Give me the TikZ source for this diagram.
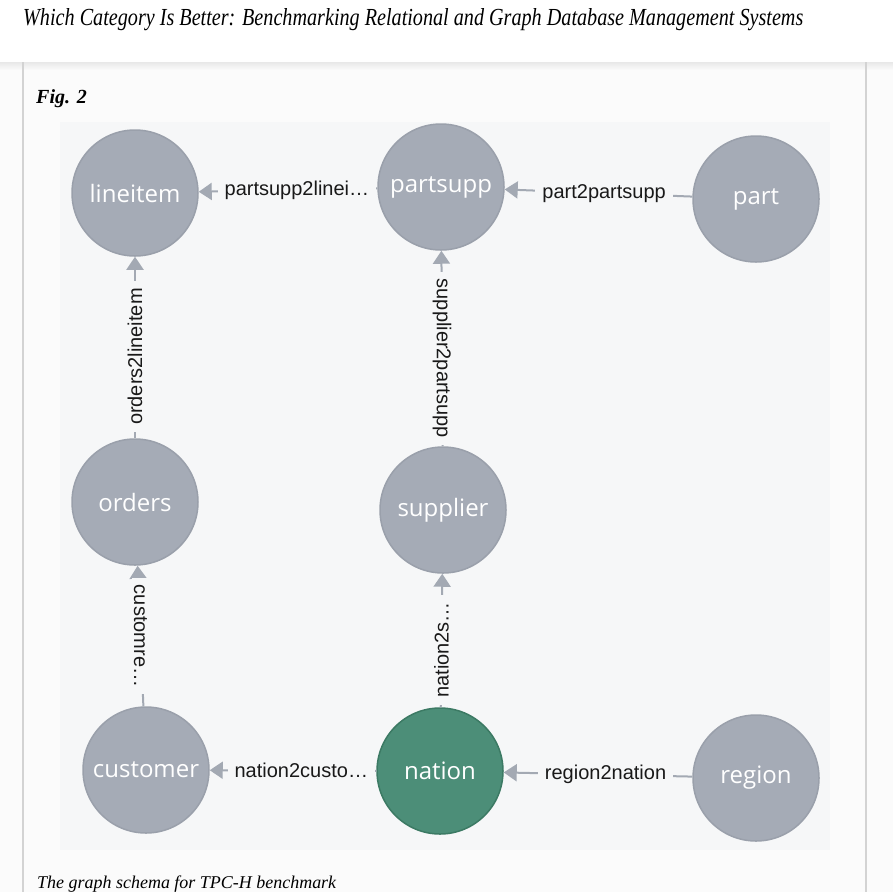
\documentclass[tikz,border=0pt]{standalone}
\usepackage{fontspec}
\setmainfont{Liberation Serif}
\newfontfamily\nodefont{Open Sans}
\newfontfamily\edgefont{Liberation Sans}
\usetikzlibrary{arrows.meta}

\definecolor{nodegray}{HTML}{A5ABB6}
\definecolor{nodeedge}{HTML}{9AA0AB}
\definecolor{nationgreen}{HTML}{4C8E78}
\definecolor{nationedge}{HTML}{3C7A64}
\definecolor{linegray}{HTML}{A3A9B3}
\definecolor{canvas}{HTML}{F6F7F8}
\definecolor{panel}{HTML}{FBFBFB}
\definecolor{frame}{HTML}{D3D3D3}

\tikzset{
  table/.style={circle, draw=nodeedge, fill=nodegray, line width=1.5pt,
                minimum size=126pt, inner sep=0pt, text=white,
                font=\nodefont\fontsize{24}{28}\selectfont},
  selected/.style={table, draw=nationedge, fill=nationgreen},
  rel/.style={draw=linegray, line width=2pt,
              -{Triangle[length=13pt,width=17pt,fill=linegray]}},
  rellabel/.style={fill=canvas, inner xsep=7pt, inner ysep=2pt, text=black!90,
                   font=\edgefont\fontsize{20}{22}\selectfont}
}

\begin{document}
\begin{tikzpicture}[x=1pt,y=-1pt]
\useasboundingbox (0,0) rectangle (893,892);

% page, header and panel
\fill[panel] (0,0) rectangle (893,892);
\fill[white] (0,0) rectangle (893,62);
\shade[top color=black!9, bottom color=panel] (0,62) rectangle (893,70);
\draw[frame, line width=2pt] (23,62) -- (23,892);
\draw[frame, line width=2pt] (866,62) -- (866,892);
\fill[canvas] (60,122) rectangle (830,850);

\node[anchor=base west, inner sep=0pt] (title) at (23,25)
  {\resizebox{780pt}{17pt}{\itshape Which Category Is Better: Benchmarking Relational and Graph Database Management Systems}};
\node[anchor=base west, inner sep=0pt] (fig) at (36,103)
  {\fontsize{20}{24}\selectfont\bfseries\itshape Fig. 2};
\node[anchor=base west, inner sep=0pt] (caption) at (37,888)
  {\resizebox{299pt}{!}{\fontsize{17}{20}\selectfont\itshape The graph schema for TPC-H benchmark}};

% tables
\node[table] (lineitem) at (135,193) {lineitem};
\node[table] (partsupp) at (441,187) {partsupp};
\node[table] (part)     at (756,199) {part};
\node[table] (orders)   at (135,502) {orders};
\node[table] (supplier) at (443,510) {supplier};
\node[table] (customer) at (146,770) {customer};
\node[selected] (nation) at (440,771) {nation};
\node[table] (region)   at (756,778) {region};

% relationships
\draw[rel] (partsupp) -- node[rellabel, pos=0.45] {partsupp2linei…} (lineitem);
\draw[rel] (part) -- node[rellabel, pos=0.47] {part2partsupp} (partsupp);
\draw[rel] (orders) -- node[rellabel, rotate=90, pos=0.45] {orders2lineitem} (lineitem);
\draw[rel] (supplier) -- node[rellabel, rotate=-90, pos=0.45] {supplier2partsupp} (partsupp);
\draw[rel] (customer) -- node[rellabel, rotate=-90, pos=0.5] {customre…} (orders);
\draw[rel] (nation) -- node[rellabel, rotate=90, pos=0.43] {nation2s…} (supplier);
\draw[rel] (nation) -- node[rellabel, pos=0.45] {nation2custo…} (customer);
\draw[rel] (region) -- node[rellabel, pos=0.46] {region2nation} (nation);
\end{tikzpicture}
\end{document}
